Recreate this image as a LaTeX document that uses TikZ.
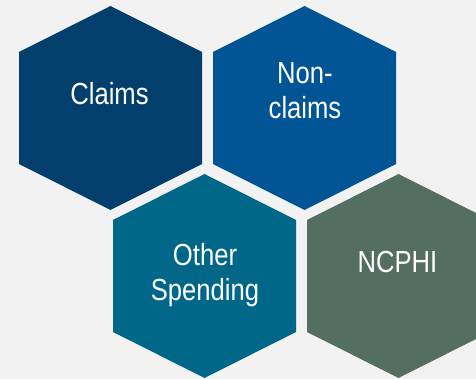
\documentclass[tikz,border=0pt]{standalone}
\usepackage{fontspec}
\setmainfont{Liberation Sans}[FakeStretch=0.84]
\definecolor{bgc}{HTML}{F2F2F2}
\definecolor{claimsc}{HTML}{023F6C}
\definecolor{nonclaimsc}{HTML}{025595}
\definecolor{otherc}{HTML}{016789}
\definecolor{ncphic}{HTML}{546F60}
\tikzset{
  hexlabel/.style={text=white, inner sep=0pt, align=center, anchor=base,
    font=\fontsize{30.5}{35}\selectfont},
}
\newcommand{\hexat}[3]{% color, cx, cy
  \fill[#1] (#2,#3-102) -- (#2+91.5,#3-56) -- (#2+91.5,#3+56) -- (#2,#3+102)
    -- (#2-91.5,#3+56) -- (#2-91.5,#3-56) -- cycle;}
\begin{document}
\begin{tikzpicture}[x=1pt,y=-1pt]
\useasboundingbox (0,0) rectangle (476,379);
\fill[bgc] (0,0) rectangle (476,379);
\begin{scope}
\clip (0,0) rectangle (476,379);
\hexat{claimsc}{110.5}{108}
\hexat{nonclaimsc}{304.5}{108}
\hexat{otherc}{204.5}{276}
\hexat{ncphic}{398.5}{276}
\end{scope}
\node[hexlabel] (claims) at (109.5,105) {Claims};
\node[hexlabel] (nonclaims) at (305,118.3) {Non-\\claims};
\node[hexlabel] (other) at (205,300) {Other\\Spending};
\node[hexlabel] (ncphi) at (397.5,272) {NCPHI};
\end{tikzpicture}
\end{document}
